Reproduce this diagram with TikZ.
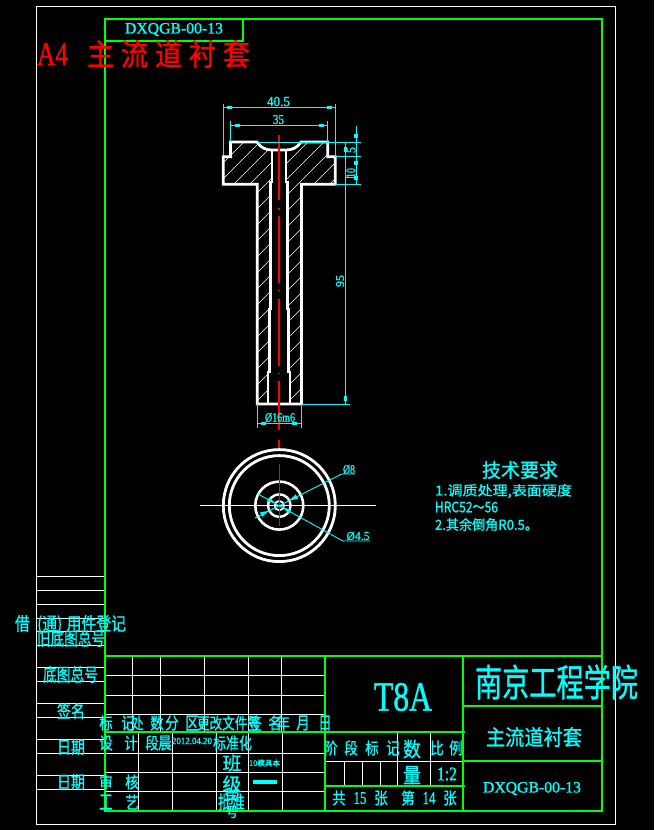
\documentclass[tikz,border=0pt]{standalone}
\usepackage{graphicx}
\usepackage{fontspec}
\setmainfont{Liberation Serif}[RawFeature={embolden=1.2}]
\newfontfamily\cjf{Noto Sans CJK SC}[RawFeature={embolden=1.0}]
\definecolor{cy}{RGB}{0,255,255}
\definecolor{gr}{RGB}{0,255,0}
\definecolor{re}{RGB}{255,0,0}
\tikzset{
 lbl/.style={inner sep=0pt,outer sep=0pt,anchor=center},
 frameline/.style={draw=gr,line width=2.8pt},
 frameline2/.style={draw=gr,line width=2pt},
 cell/.style={draw=white,line width=1pt},
 dim/.style={draw=cy,line width=0.9pt},
 tick/.style={fill=cy,draw=none},
 part/.style={draw=white,line width=2.8pt,line join=miter},
 hatch/.style={draw=white,line width=0.6pt},
 centre/.style={draw=re,line width=1.1pt}
}
% name colour x y w h text
\newcommand\lab[7]{\node[lbl,text=#2] (#1) at (#3,#4) {\resizebox*{#5pt}{#6pt}{#7}};}
% name x y text : one CJK character, cyan
\newcommand\hz[4]{\node[lbl,text=cy] (#1) at (#2,#3) {\resizebox*{13.5pt}{15pt}{\cjf #4}};}
\begin{document}
\begin{tikzpicture}[x=1pt,y=-1pt]
\useasboundingbox (0,0) rectangle (654,830);
\fill[black] (0,0) rectangle (654,830);
% sheet border and left strip
\draw[cell] (36,6) rectangle (615.7,824);
\foreach \yy in {576,590.5,604.5,618,631,645,667.5,681.5,703,717,739,753,775,789}
  \draw[cell] (36,\yy) -- (105,\yy);
% title block cells
\foreach \xx in {132,160,204,248,281} \draw[cell] (\xx,656) -- (\xx,732);
\foreach \yy in {675,695,714.5} \draw[cell] (105,\yy) -- (325,\yy);
\foreach \xx in {138,172,216,248,282} \draw[cell] (\xx,732) -- (\xx,811);
\foreach \yy in {753,772,791} \draw[cell] (105,\yy) -- (325,\yy);
\draw[cell] (325,761) -- (463,761);
\foreach \xx in {397.5,430} \draw[cell] (\xx,732) -- (\xx,786);
\foreach \xx in {344,362,380} \draw[cell] (\xx,761) -- (\xx,786);
% green frames
\draw[frameline] (105,19) rectangle (602,811);
\draw[frameline2] (105,41) -- (243,41) -- (243,19);
\draw[frameline2] (105,656) -- (602,656);
\draw[frameline2] (325,656) -- (325,811);
\draw[frameline2] (463,656) -- (463,811);
\draw[frameline2] (105,732) -- (465,732);
\draw[frameline2] (463,706) -- (602,706);
\draw[frameline2] (463,761) -- (602,761);
\draw[frameline2] (325,786) -- (465,786);
% hatching
\begin{scope}
\clip (223.3,156.7) -- (230.5,156.7) -- (230.5,142) -- (257,142) .. controls (261,148) and (266,150) .. (272,150) -- (272,182) -- (270.5,182) -- (270.5,309) -- (269.5,309) -- (269.5,372) -- (268,372) -- (268,404) -- (257.3,404) -- (257.3,184.3) -- (223.3,184.3) -- cycle
 (335.3,156.7) -- (327.7,156.7) -- (327.7,142) -- (301,142) .. controls (297,148) and (292,150) .. (286,150) -- (286,182) -- (287.5,182) -- (287.5,309) -- (288.5,309) -- (288.5,372) -- (290,372) -- (290,404) -- (301.5,404) -- (301.5,184.3) -- (335.3,184.3) -- cycle;
\foreach \hh in {370,386,...,720} \draw[hatch] (\hh-130,130) -- (\hh-410,410);
\end{scope}
% part outline
\draw[part] (301.5,184.3) -- (335.3,184.3) -- (335.3,156.7) -- (327.7,156.7) -- (327.7,142) -- (301,142) .. controls (297,148) and (292,150) .. (286,150) -- (272,150) .. controls (266,150) and (261,148) .. (257,142) -- (230.5,142) -- (230.5,156.7) -- (223.3,156.7) -- (223.3,184.3) -- (257.3,184.3) -- (257.3,404) -- (301.5,404) -- cycle;
\draw[part] (272,150) -- (272,182) -- (270.5,182) -- (270.5,309) -- (269.5,309) -- (269.5,372) -- (268,372) -- (268,404);
\draw[part] (286,150) -- (286,182) -- (287.5,182) -- (287.5,309) -- (288.5,309) -- (288.5,372) -- (290,372) -- (290,404);
% centre line, front view
\foreach \aa/\bb in {135/200,208/209.5,216/283,290/291,299/366,373/374,381/430,440/448}
  \draw[centre] (279,\aa) -- (279,\bb);
% end view
\coordinate (cen) at (279.3,505.6);
\draw[white,line width=1pt] (200,505.5) -- (376,505.5);
\foreach \rr/\ww in {56/2.8,50/2.8,24/2.6,11.3/2.4,4.7/1.8}
  \draw[white,line width=\ww pt] (cen) circle[radius=\rr pt];
\draw[centre] (279.3,464) -- (279.3,526);
% dimension lines
\draw[dim] (223.3,103.5) -- (223.3,156);
\draw[dim] (335.3,103.5) -- (335.3,157);
\draw[dim] (223.3,107.3) -- (335.3,107.3);
\draw[dim] (230.5,121) -- (230.5,142);
\draw[dim] (327.6,121) -- (327.6,142);
\draw[dim] (230.5,125.3) -- (327.6,125.3);
\draw[dim] (258,142) -- (361,142);
\draw[dim] (335,156.7) -- (361,156.7);
\draw[dim] (335,184.5) -- (361,184.5);
\draw[dim] (356,126) -- (356,184.5);
\draw[dim] (345.3,142) -- (345.3,404);
\draw[dim] (346,177.3) -- (356,177.3);
\draw[dim] (301,404) -- (350,404);
\draw[dim] (257.3,404) -- (257.3,428);
\draw[dim] (301.6,404) -- (301.6,428);
\draw[dim] (257.3,423.3) -- (301.6,423.3);
% dimension ticks
\fill[tick] (227.3,106) rectangle (232,108.7);
\fill[tick] (327,106) rectangle (331.7,108.7);
\fill[tick] (235,124) rectangle (240,126.7);
\fill[tick] (319,124) rectangle (324,126.7);
\fill[tick] (354.3,134) rectangle (357.7,138);
\fill[tick] (354.3,160.7) rectangle (357.7,165);
\fill[tick] (354.3,176) rectangle (357.7,180);
\fill[tick] (344,146.7) rectangle (346.7,151.7);
\fill[tick] (344,396) rectangle (347.3,401);
\fill[tick] (261.3,422) rectangle (266,424.7);
\fill[tick] (292,422) rectangle (296.7,424.7);
% leaders
\draw[dim] (255,518) -- (341.7,474) -- (355,474);
\draw[dim] (258,494) -- (343,541) -- (370,541);
\fill[tick] (289.1,500.5) -- (298,498.8) -- (295.8,494.4) -- cycle;
\fill[tick] (268.9,510.7) -- (262.2,516.8) -- (260,512.4) -- cycle;
\fill[tick] (275,503) -- (266.8,501.7) -- (269.2,497.3) -- cycle;
\fill[tick] (283,507.8) -- (288.8,513.9) -- (291.2,509.5) -- cycle;
% dimension text
\lab{d405}{cy}{278.5}{101.5}{23}{9.5}{40.5}
\lab{d35}{cy}{278.5}{119.5}{11}{9}{35}
\node[lbl,text=cy,rotate=90] (d95) at (340,281) {\resizebox*{12pt}{8pt}{95}};
\node[lbl,text=cy,rotate=90] (d5) at (351,150) {\resizebox*{6pt}{9pt}{5}};
\node[lbl,text=cy,rotate=90] (d10) at (351,173) {\resizebox*{10pt}{9pt}{10}};
\lab{d16}{cy}{280}{417.5}{30}{9}{Ø16m6}
\lab{d8}{cy}{349}{469.5}{12}{9}{Ø8}
\lab{d45}{cy}{358}{536}{23}{8.5}{Ø4.5}
% top labels
\lab{topcode}{cy}{174}{29.5}{98}{13}{DXQGB-00-13}
\lab{a4}{re}{52.5}{54}{31}{22}{A4}
\lab{a4name}{re}{168.5}{54}{163}{28}{\cjf\addfontfeature{LetterSpace=25}主流道衬套}
% technical notes
\lab{req}{cy}{520}{470}{76}{18}{\cjf 技术要求}
\lab{req1}{cy}{503.5}{491}{137}{14}{\cjf 1.调质处理,表面硬度}
\lab{req2}{cy}{466.5}{507}{63}{11}{\cjf HRC52\char"FF5E 56}
\lab{req3}{cy}{486.5}{524.5}{103}{13}{\cjf 2.其余倒角R0.5。}
% left strip
\lab{s1}{cy}{70.5}{624.5}{111}{19}{\cjf 借\hspace{0.5em}(通)\hspace{0.3em}用件登记}
\lab{s2}{cy}{71}{638.5}{68}{17}{\cjf 旧底图总号}
\lab{s3}{cy}{70.5}{674.5}{55}{17}{\cjf 底图总号}
\lab{s4}{cy}{71}{711}{28}{16}{\cjf 签名}
\lab{s5}{cy}{71}{747}{28}{16}{\cjf 日期}
\lab{s6}{cy}{71}{782}{28}{16}{\cjf 日期}
% revision row
\hz{r1}{106}{723}{标}
\hz{r2}{128}{723}{记}
\hz{r3}{137}{723}{处}
\hz{r4}{157}{723}{数}
\hz{r5}{172}{723}{分}
\hz{r6}{192}{723}{区}
\lab{r7}{cy}{228.5}{723}{63}{15}{\cjf 更改文件号}
\hz{r8}{255}{723}{签}
\hz{r9}{275}{723}{名}
\hz{r10}{283}{723}{年}
\hz{r11}{303}{723}{月}
\hz{r12}{325}{723}{日}
% signature rows
\hz{a1}{106}{743}{设}
\hz{a2}{131}{743}{计}
\hz{a3}{152}{743}{段}
\hz{a4b}{165}{743}{晨}
\lab{a5}{cy}{192}{741}{40}{6.5}{2012.04.20}
\lab{a6}{cy}{232.5}{743}{39}{15}{\cjf 标准化}
\node[lbl,text=cy] (b1) at (232,763) {\resizebox*{19pt}{17pt}{\cjf 班}};
\lab{b2}{cy}{264.5}{763}{31}{7}{\cjf 10模具本}
\hz{c1}{106}{782}{审}
\hz{c2}{132}{782}{核}
\node[lbl,text=cy] (c3) at (232,784) {\resizebox*{19pt}{17pt}{\cjf 级}};
\fill[cy] (253,780) rectangle (277,784);
\hz{e1}{106}{802}{工}
\hz{e2}{132}{802}{艺}
\node[lbl,text=cy] (e3) at (232,797) {\resizebox*{15pt}{15pt}{\cjf 学}};
\lab{e4}{cy}{231.5}{802}{27}{17}{\cjf 批准}
\node[lbl,text=cy] (e5) at (232,812) {\resizebox*{13pt}{12pt}{\cjf 号}};
% middle block
\lab{mat}{cy}{403}{697}{58}{28}{T8A}
\hz{f1}{331}{748}{阶}
\hz{f2}{351}{748}{段}
\hz{f3}{372}{748}{标}
\hz{f4}{393}{748}{记}
\node[lbl,text=cy] (f5) at (412,749) {\resizebox*{18pt}{19pt}{\cjf 数}};
\node[lbl,text=cy] (f6) at (412,775) {\resizebox*{18pt}{18pt}{\cjf 量}};
\hz{f7}{437}{748}{比}
\hz{f8}{456}{748}{例}
\lab{f9}{cy}{447}{774}{20}{13}{1:2}
\hz{g1}{339}{798}{共}
\lab{g2}{cy}{360}{798}{13}{12}{15}
\hz{g3}{381}{798}{张}
\hz{g4}{408}{798}{第}
\lab{g5}{cy}{429}{798}{13}{12}{14}
\hz{g6}{450}{798}{张}
% right block
\lab{school}{cy}{556.5}{682}{163}{35}{\cjf 南京工程学院}
\lab{pname}{cy}{534}{737}{96}{20}{\cjf 主流道衬套}
\lab{code}{cy}{532}{788.5}{98}{13}{DXQGB-00-13}
\end{tikzpicture}
\end{document}
